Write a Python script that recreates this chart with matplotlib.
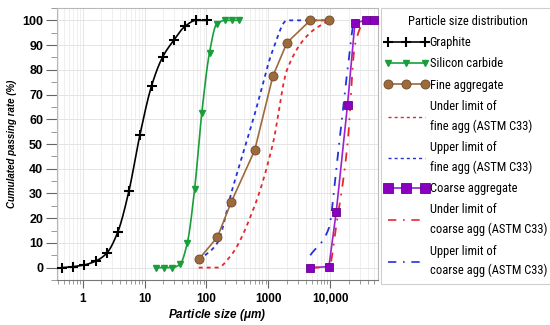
import numpy as np
import matplotlib
matplotlib.use("Agg")
import matplotlib.pyplot as plt
from matplotlib import font_manager
from matplotlib.font_manager import FontProperties
from matplotlib.ticker import FixedLocator, LogLocator, NullFormatter, MultipleLocator
from matplotlib.lines import Line2D
from matplotlib.legend_handler import HandlerLine2D

# ---------------- data ----------------
graphite_x = [0.47, 0.70, 1.06, 1.64, 2.44, 3.68, 5.6, 8.4, 13.0, 19.6, 29.5, 45, 68, 102]
graphite_y = [0, 0.4, 1.1, 2.7, 5.8, 14.3, 31.1, 53.6, 73.6, 85.2, 91.9, 97.6, 100, 100]

sic_x = [15.3, 20.6, 27.7, 37.3, 49, 64.5, 84, 112, 146, 200, 255, 330]
sic_y = [0, 0, 0, 1.3, 10, 32, 62.5, 87, 98.5, 100, 100, 100]

fine_x = [75, 150, 250, 600, 1180, 2000, 4750, 9500]
fine_y = [3.4, 12.3, 26.4, 47.4, 77.4, 91, 100, 100]
fine_under = [0, 0, 5, 25, 50, 80, 95, 100]
fine_upper = [3, 10, 30, 62, 88, 100, 100, 100]

coarse_x = [4750, 9500, 12500, 19000, 25000, 37500, 50000]
coarse_y = [0, 0.4, 22.7, 65.9, 99, 100, 100]
coarse_under = [0, 0, 17, 50, 90, 100, 100]
coarse_upper = [5, 16, 40, 80, 100, 100, 100]

xtick_vals = [1, 10, 100, 1000, 10000]
xtick_labels = ["1", "10", "100", "1000", "10,000"]
ytick_vals = list(range(0, 101, 10))

legend_title = "Particle size distribution"
labels = ["Graphite", "Silicon carbide", "Fine aggregate",
          "Under limit of\nfine agg (ASTM C33)", "Upper limit of\nfine agg (ASTM C33)",
          "Coarse aggregate",
          "Under limit of\ncoarse agg (ASTM C33)", "Upper limit of\ncoarse agg (ASTM C33)"]


def pchip_curve(x, y, n=200):
    """Shape-preserving smooth line through the data (drawn in log-x space)."""
    lx = np.log10(np.asarray(x, float))
    yy = np.asarray(y, float)
    h = np.diff(lx)
    d = np.diff(yy) / h
    m = np.zeros_like(yy)
    for k in range(1, len(yy) - 1):
        if d[k - 1] * d[k] > 0:
            w1 = 2 * h[k] + h[k - 1]
            w2 = h[k] + 2 * h[k - 1]
            m[k] = (w1 + w2) / (w1 / d[k - 1] + w2 / d[k])
    m[0] = d[0] if d[0] * (d[1] if len(d) > 1 else d[0]) > 0 else 0
    m[-1] = d[-1] if d[-1] * (d[-2] if len(d) > 1 else d[-1]) > 0 else 0
    xs, ys = [], []
    for k in range(len(h)):
        t = np.linspace(0, 1, n // len(h) + 2)
        h00 = 2 * t**3 - 3 * t**2 + 1
        h10 = t**3 - 2 * t**2 + t
        h01 = -2 * t**3 + 3 * t**2
        h11 = t**3 - t**2
        yk = h00 * yy[k] + h10 * h[k] * m[k] + h01 * yy[k + 1] + h11 * h[k] * m[k + 1]
        xs.append(lx[k] + t * h[k]); ys.append(yk)
    return 10 ** np.concatenate(xs), np.concatenate(ys)


# ---- pick a condensed sans font for the legend if one is installed ----
def find_condensed():
    prefer = ["Liberation Sans Narrow", "Arial Narrow", "Roboto Condensed",
              "Open Sans Condensed", "Noto Sans", "DejaVu Sans", "Open Sans", "Roboto"]
    cands = []
    for f in font_manager.fontManager.ttflist:
        st = str(f.stretch).lower()
        nm = f.name
        fn = f.fname.lower()
        is_cond = ("condensed" in st or "narrow" in st or "narrow" in nm.lower()
                   or "condensed" in nm.lower() or "condensed" in fn or "narrow" in fn)
        if not is_cond or "semi" in st or "semi" in fn or "extra" in fn or "ultra" in fn:
            continue
        if f.style != "normal":
            continue
        w = f.weight if isinstance(f.weight, (int, float)) else 400
        if not (380 <= w <= 420):
            continue
        if "mono" in nm.lower() or "serif" in nm.lower():
            continue
        rank = len(prefer)
        for i, p in enumerate(prefer):
            if nm.startswith(p):
                rank = i
                break
        cands.append((rank, f.fname))
    if cands:
        cands.sort()
        return FontProperties(fname=cands[0][1])
    return None


cond = find_condensed()
plt.rcParams["font.family"] = ["Liberation Sans", "DejaVu Sans"]
plt.rcParams["mathtext.fontset"] = "custom"
plt.rcParams["mathtext.it"] = "Liberation Sans:italic:bold"
plt.rcParams["mathtext.rm"] = "Liberation Sans:bold"

if cond is not None:
    leg_size = 9.0
    leg_prop = cond.copy(); leg_prop.set_size(leg_size)
    tit_prop = cond.copy(); tit_prop.set_size(leg_size)
    lab_space, line_space = 0.66, 1.62
else:
    leg_size = 8.0
    leg_prop = FontProperties(family="Liberation Sans", size=leg_size)
    tit_prop = FontProperties(family="Liberation Sans", size=leg_size)
    lab_space, line_space = 0.75, 1.9

fig = plt.figure(figsize=(5.5, 3.25), dpi=100)
ax = fig.add_axes([57 / 550, 1 - 280 / 325, (378 - 57) / 550, (280 - 8) / 325])

black = "#000000"
green = "#1a9e3c"
brown = "#9c6a3c"
purple = "#9a22d0"
red = "#e8272b"
blue = "#2433d8"

dash = (0, (2.2, 2.2))
dashdot = (0, (5, 4, 1, 4))
ux, uy = pchip_curve(fine_x, fine_under)
ax.plot(ux, uy, color=red, lw=1.3, linestyle=dash, zorder=2)
px_, py_ = pchip_curve(fine_x, fine_upper)
ax.plot(px_, py_, color=blue, lw=1.3, linestyle=dash, zorder=2)
cx2, cy2 = pchip_curve(coarse_x, coarse_upper)
ax.plot(cx2, cy2, color=blue, lw=1.3, linestyle=dashdot, zorder=2)

gx, gy = pchip_curve(graphite_x, graphite_y)
ax.plot(gx, gy, color=black, lw=1.2, zorder=3)
ax.plot(graphite_x, graphite_y, linestyle="none", marker="+", ms=6.5, mew=1.5, color=black, zorder=4)
sx, sy = pchip_curve(sic_x, sic_y)
ax.plot(sx, sy, color=green, lw=1.2, zorder=3)
ax.plot(sic_x, sic_y, linestyle="none", marker="v", ms=5, color=green, mec=green, zorder=4)
ax.plot(fine_x, fine_y, color=brown, lw=1.2, marker="o", ms=6.5, mfc=brown, mec="#6e4a26",
        mew=0.6, zorder=4)
ax.plot(coarse_x, coarse_y, color=purple, lw=1.2, zorder=3)
cx, cy = pchip_curve(coarse_x, coarse_under)
ax.plot(cx, cy, color=red, lw=1.3, linestyle=dashdot, zorder=3.5)
ax.plot(coarse_x, coarse_y, linestyle="none", marker="s", ms=6, mfc="#8a00c0",
        mec="#6a0090", mew=0.6, zorder=4)

ax.set_xscale("log")
ax.set_xlim(0.385, 59000)
ax.set_ylim(-5, 105)

ax.xaxis.set_major_locator(FixedLocator(xtick_vals))
ax.set_xticklabels(xtick_labels, fontsize=8.5, fontweight="bold")
ax.xaxis.set_minor_locator(LogLocator(base=10, subs=np.arange(2, 10)))
ax.xaxis.set_minor_formatter(NullFormatter())
ax.set_yticks(ytick_vals)
ax.set_yticklabels([str(v) for v in ytick_vals], fontsize=9, fontweight="bold")
ax.yaxis.set_minor_locator(MultipleLocator(5))

ax.tick_params(axis="y", which="major", direction="out", length=8, width=0.8, color="#666666", pad=2)
ax.tick_params(axis="y", which="minor", direction="out", length=4, width=0.6, color="#888888")
ax.tick_params(axis="x", which="major", direction="out", length=6, width=0.8, color="#666666", pad=3)
ax.tick_params(axis="x", which="minor", direction="out", length=3, width=0.6, color="#888888")
ax.grid(True, which="major", color="#e4e4e4", lw=0.7, zorder=0)
ax.grid(True, which="minor", axis="x", color="#ececec", lw=0.6, zorder=0)
ax.set_axisbelow(True)
for s in ax.spines.values():
    s.set_color("#b8b8b8")
    s.set_linewidth(0.8)
ax.spines["bottom"].set_color("#777777")

ax.set_xlabel("Particle size ($\\mu$m)", fontsize=8.5, fontweight="bold", fontstyle="italic", labelpad=2)
ax.set_ylabel("Cumulated passing rate (%)", fontsize=7, fontweight="bold", fontstyle="italic", labelpad=4)

h = [
    Line2D([], [], color=black, lw=1.2, marker="+", ms=6.5, mew=1.5),
    Line2D([], [], color=green, lw=1.2, marker="v", ms=5),
    Line2D([], [], color=brown, lw=1.2, marker="o", ms=6.5, mfc=brown, mec="#6e4a26", mew=0.6),
    Line2D([], [], color=red, lw=1.0, linestyle=dash),
    Line2D([], [], color=blue, lw=1.0, linestyle=dash),
    Line2D([], [], color=purple, lw=1.2, marker="s", ms=6.5, mfc="#8a00c0", mec="#6a0090", mew=0.6),
    Line2D([], [], color=red, lw=1.2, linestyle=dashdot),
    Line2D([], [], color=blue, lw=1.2, linestyle=dashdot),
]
leg = fig.legend(h, labels, loc="upper left", bbox_to_anchor=(381 / 550, 1 - 8 / 325),
                 borderaxespad=0, frameon=True, fancybox=False, numpoints=3,
                 handlelength=2.95, handletextpad=0.4, borderpad=0.55, labelspacing=lab_space,
                 title=legend_title, prop=leg_prop, title_fontproperties=tit_prop,
                 handler_map={Line2D: HandlerLine2D(marker_pad=0.0)})
leg.get_frame().set_edgecolor("#c4c4c4")
leg.get_frame().set_linewidth(0.8)
for t in leg.get_texts():
    t.set_linespacing(line_space)

fig.savefig("out.png", dpi=100)
